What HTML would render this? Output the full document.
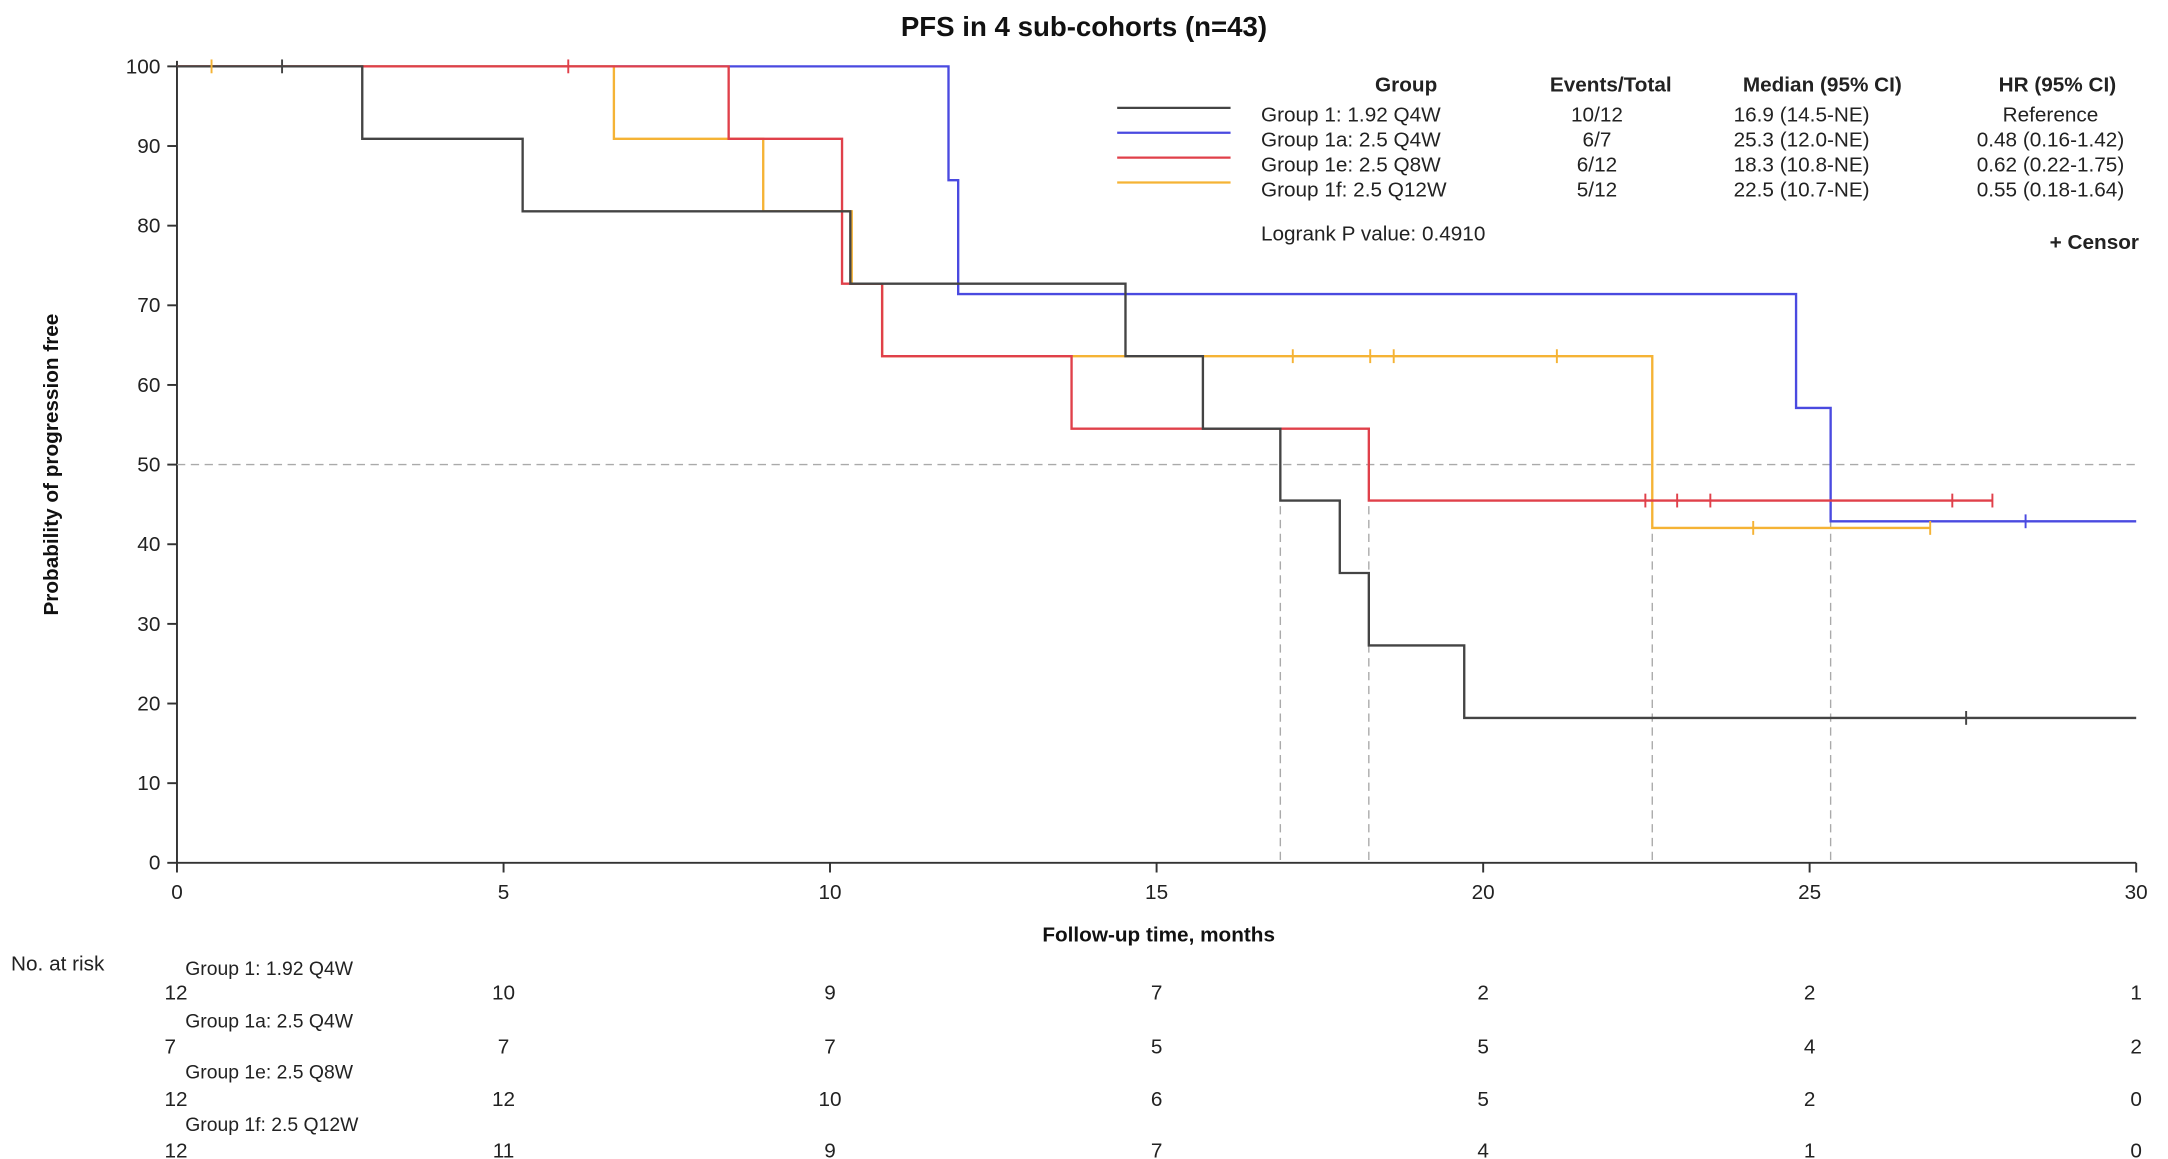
<!DOCTYPE html>
<html><head><meta charset="utf-8"><style>
html,body{margin:0;padding:0;background:#fff;}
svg{display:block;font-family:"Liberation Sans",Arial,sans-serif;}
</style></head><body>
<svg width="2168" height="1159" viewBox="0 0 1568 838.2" preserveAspectRatio="none" xmlns="http://www.w3.org/2000/svg">
<rect width="1568" height="838.2" fill="#fff"/>
<text x="784" y="26" font-size="20" font-weight="bold" text-anchor="middle" fill="#111">PFS in 4 sub-cohorts (n=43)</text>
<g stroke="#333" stroke-width="1.4" fill="none">
<line x1="128" y1="44" x2="128" y2="624"/>
<line x1="128" y1="624" x2="1545" y2="624"/>
<line x1="121" y1="48" x2="128" y2="48"/><line x1="121" y1="105.6" x2="128" y2="105.6"/><line x1="121" y1="163.2" x2="128" y2="163.2"/><line x1="121" y1="220.8" x2="128" y2="220.8"/><line x1="121" y1="278.4" x2="128" y2="278.4"/><line x1="121" y1="336" x2="128" y2="336"/><line x1="121" y1="393.6" x2="128" y2="393.6"/><line x1="121" y1="451.2" x2="128" y2="451.2"/><line x1="121" y1="508.8" x2="128" y2="508.8"/><line x1="121" y1="566.4" x2="128" y2="566.4"/><line x1="121" y1="624" x2="128" y2="624"/>
<line x1="128" y1="624" x2="128" y2="631"/><line x1="364.2" y1="624" x2="364.2" y2="631"/><line x1="600.3" y1="624" x2="600.3" y2="631"/><line x1="836.5" y1="624" x2="836.5" y2="631"/><line x1="1072.7" y1="624" x2="1072.7" y2="631"/><line x1="1308.8" y1="624" x2="1308.8" y2="631"/><line x1="1545" y1="624" x2="1545" y2="631"/>
</g>
<g font-size="15" fill="#222" text-anchor="end">
<text x="116" y="53">100</text><text x="116" y="110.6">90</text><text x="116" y="168.2">80</text><text x="116" y="225.8">70</text><text x="116" y="283.4">60</text><text x="116" y="341">50</text><text x="116" y="398.6">40</text><text x="116" y="456.2">30</text><text x="116" y="513.8">20</text><text x="116" y="571.4">10</text><text x="116" y="629">0</text>
</g>
<g font-size="15" fill="#222" text-anchor="middle">
<text x="128" y="650">0</text><text x="364.2" y="650">5</text><text x="600.3" y="650">10</text><text x="836.5" y="650">15</text><text x="1072.7" y="650">20</text><text x="1308.8" y="650">25</text><text x="1545" y="650">30</text>
</g>
<text x="838" y="681" font-size="15" font-weight="bold" text-anchor="middle" fill="#111">Follow-up time, months</text>
<text transform="translate(42,336) rotate(-90)" font-size="15" font-weight="bold" text-anchor="middle" fill="#111">Probability of progression free</text>
<g stroke="#aaa" stroke-width="1" stroke-dasharray="6,4" fill="none">
<line x1="128" y1="336" x2="1545" y2="336"/>
<line x1="926" y1="336" x2="926" y2="624"/>
<line x1="990" y1="336" x2="990" y2="624"/>
<line x1="1195" y1="336" x2="1195" y2="624"/>
<line x1="1324" y1="336" x2="1324" y2="624"/>
</g>
<g fill="none" stroke-width="1.7">
<path stroke="#4a4ae0" d="M128,48 H686 V130.3 H693 V212.7 H1299 V295 H1324 V377 H1545"/>
<path stroke="#f5b335" d="M128,48 H444 V100.4 H552 V152.8 H616 V205.2 H638 V257.6 H1195 V381.8 H1396"/>
<path stroke="#e0404a" d="M128,48 H527 V100.4 H609 V205.2 H638 V257.6 H775 V310 H990 V362 H1441"/>
<path stroke="#444" d="M128,48 H262 V100.4 H378 V152.8 H615 V205.2 H814 V257.6 H870 V310 H926 V362 H969 V414.4 H990 V466.8 H1059 V519.2 H1545"/>
</g>
<g stroke-width="1.4">
<g stroke="#f5b335"><line x1="153" y1="43" x2="153" y2="53"/><line x1="935" y1="252.6" x2="935" y2="262.6"/><line x1="991" y1="252.6" x2="991" y2="262.6"/><line x1="1008" y1="252.6" x2="1008" y2="262.6"/><line x1="1126" y1="252.6" x2="1126" y2="262.6"/><line x1="1268" y1="376.8" x2="1268" y2="386.8"/><line x1="1396" y1="376.8" x2="1396" y2="386.8"/></g>
<g stroke="#444"><line x1="204" y1="43" x2="204" y2="53"/><line x1="1422" y1="514.2" x2="1422" y2="524.2"/></g>
<g stroke="#e0404a"><line x1="411" y1="43" x2="411" y2="53"/><line x1="1190" y1="357" x2="1190" y2="367"/><line x1="1213" y1="357" x2="1213" y2="367"/><line x1="1237" y1="357" x2="1237" y2="367"/><line x1="1412" y1="357" x2="1412" y2="367"/><line x1="1441" y1="357" x2="1441" y2="367"/></g>
<g stroke="#4a4ae0"><line x1="1465" y1="372" x2="1465" y2="382"/></g>
</g>
<g stroke-width="1.6">
<line x1="808" y1="78" x2="890" y2="78" stroke="#444"/>
<line x1="808" y1="96" x2="890" y2="96" stroke="#4a4ae0"/>
<line x1="808" y1="114" x2="890" y2="114" stroke="#e0404a"/>
<line x1="808" y1="132" x2="890" y2="132" stroke="#f5b335"/>
</g>
<g font-size="15" fill="#222">
<text x="1017" y="66" font-weight="bold" text-anchor="middle">Group</text>
<text x="1165" y="66" font-weight="bold" text-anchor="middle">Events/Total</text>
<text x="1318" y="66" font-weight="bold" text-anchor="middle">Median (95% CI)</text>
<text x="1488" y="66" font-weight="bold" text-anchor="middle">HR (95% CI)</text>
<text x="912" y="88">Group 1: 1.92 Q4W</text>
<text x="912" y="106">Group 1a: 2.5 Q4W</text>
<text x="912" y="124">Group 1e: 2.5 Q8W</text>
<text x="912" y="142">Group 1f: 2.5 Q12W</text>
<text x="912" y="174">Logrank P value: 0.4910</text>
<g text-anchor="middle">
<text x="1155" y="88">10/12</text><text x="1155" y="106">6/7</text><text x="1155" y="124">6/12</text><text x="1155" y="142">5/12</text>
<text x="1303" y="88">16.9 (14.5-NE)</text><text x="1303" y="106">25.3 (12.0-NE)</text><text x="1303" y="124">18.3 (10.8-NE)</text><text x="1303" y="142">22.5 (10.7-NE)</text>
<text x="1483" y="88">Reference</text><text x="1483" y="106">0.48 (0.16-1.42)</text><text x="1483" y="124">0.62 (0.22-1.75)</text><text x="1483" y="142">0.55 (0.18-1.64)</text>
</g>
<text x="1547" y="180" font-weight="bold" text-anchor="end">+  Censor</text>
</g>
<g font-size="15" fill="#222">
<text x="8" y="702">No. at risk</text>
<text x="134" y="705" font-size="14">Group 1: 1.92 Q4W</text>
<text x="134" y="743" font-size="14">Group 1a: 2.5 Q4W</text>
<text x="134" y="780" font-size="14">Group 1e: 2.5 Q8W</text>
<text x="134" y="818" font-size="14">Group 1f: 2.5 Q12W</text>
<g text-anchor="start"><text x="119" y="723">12</text><text x="119" y="762">7</text><text x="119" y="800">12</text><text x="119" y="837">12</text></g>
<g text-anchor="middle">
<text x="364.2" y="723">10</text><text x="600.3" y="723">9</text><text x="836.5" y="723">7</text><text x="1072.7" y="723">2</text><text x="1308.8" y="723">2</text><text x="1545" y="723">1</text>
<text x="364.2" y="762">7</text><text x="600.3" y="762">7</text><text x="836.5" y="762">5</text><text x="1072.7" y="762">5</text><text x="1308.8" y="762">4</text><text x="1545" y="762">2</text>
<text x="364.2" y="800">12</text><text x="600.3" y="800">10</text><text x="836.5" y="800">6</text><text x="1072.7" y="800">5</text><text x="1308.8" y="800">2</text><text x="1545" y="800">0</text>
<text x="364.2" y="837">11</text><text x="600.3" y="837">9</text><text x="836.5" y="837">7</text><text x="1072.7" y="837">4</text><text x="1308.8" y="837">1</text><text x="1545" y="837">0</text>
</g>
</g>
</svg>
</body></html>
